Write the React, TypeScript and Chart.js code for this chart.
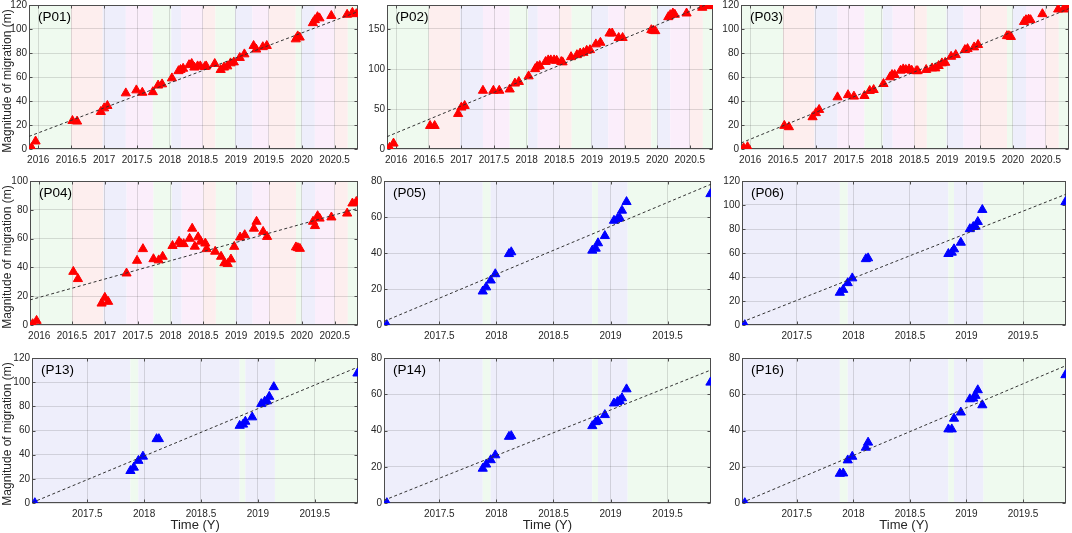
import React, { useEffect, useRef } from 'react';
import { Chart, registerables } from 'chart.js';
Chart.register(...registerables);

// ---------- data ----------
const datesTop = [
  2015.9, 2015.96, 2016.52, 2016.59, 2016.95, 2017.0, 2017.05, 2017.33, 2017.49, 2017.58,
  2017.74, 2017.82, 2017.88, 2018.03, 2018.13, 2018.16, 2018.2, 2018.29, 2018.33, 2018.37,
  2018.42, 2018.46, 2018.53, 2018.55, 2018.68, 2018.77, 2018.82, 2018.87, 2018.92, 2018.97,
  2019.06, 2019.13, 2019.27, 2019.31, 2019.41, 2019.47, 2019.91, 2019.94, 2019.97, 2020.17,
  2020.2, 2020.24, 2020.27, 2020.45, 2020.69, 2020.77, 2020.83,
];
const datesBottom = [
  2017.04, 2017.88, 2017.91, 2017.95, 2017.99, 2018.11, 2018.13, 2018.84, 2018.87, 2018.89,
  2018.95, 2019.03, 2019.06, 2019.08, 2019.1, 2019.14, 2019.875,
];

const p01 = [1, 6.4, 23.5, 23, 31, 34, 36, 46.5, 49, 47, 47.5, 53, 54, 59, 65, 66, 67, 70, 71, 68, 69, 69, 68.5, 69, 71, 66, 68, 69, 71.5, 72.3, 76, 79, 86, 83, 85, 86, 91.5, 94, 93, 105, 107.5, 110, 109, 111, 112, 113.6, 112.5];
const p02 = [1.7, 7, 29, 29, 44, 52, 54, 73, 73, 73, 74.6, 82, 84, 91, 100, 103, 104, 109, 111, 111, 111, 110.5, 109, 108.5, 115, 117.5, 119.6, 120.4, 123, 123.75, 131, 133, 144.6, 144.6, 139, 139, 148.75, 148, 147.5, 165, 167.5, 169.6, 168, 169.6, 176.7, 178.75, 179];
const p03 = [0.8, 1.7, 19.4, 18.3, 26.6, 30, 32.7, 43.2, 45, 43.8, 44.3, 48.5, 49.3, 54.3, 59.9, 61.8, 61.8, 65.4, 66.5, 66, 66.5, 65.4, 65, 65, 66, 67.3, 67.3, 69.3, 71.5, 72, 77, 78.4, 82.6, 83.4, 84.8, 86.8, 94.2, 94.2, 93.5, 106, 107.5, 108, 107.5, 112.5, 116.4, 116.4, 118];
const p04 = [0.7, 3, 37, 32, 15, 19, 16.2, 35.9, 44.7, 52.8, 45.8, 45, 47.5, 55, 57.9, 56.3, 56.3, 60, 67, 54.5, 61, 58, 56.7, 52.8, 51, 47.5, 43, 42.5, 45.6, 54.4, 60.9, 62.5, 67, 71.8, 64.8, 61.3, 54, 53.5, 53, 71.8, 68.8, 75.7, 74, 74.8, 77.5, 84.5, 85.6];
const p05 = [0, 18.7, 21, 24.8, 28.3, 39.5, 40.5, 41.4, 42.5, 45.5, 49.5, 58, 59, 59.5, 63.6, 68.4, 72.8];
const p06 = [0, 27, 29.4, 35, 39, 55, 55.7, 59.3, 60.4, 63.2, 68.7, 80, 81.8, 82, 86, 96, 102.5];
const p13 = [0, 26.6, 29.4, 35, 38.5, 53, 53, 64, 65, 67.4, 71, 82, 84, 84.3, 88, 96, 107.3];
const p14 = [0, 19, 21.3, 23.7, 26.4, 36.6, 37, 42.5, 44.7, 45.3, 48.6, 55, 55.8, 56.4, 57.9, 62.8, 66.5];
const p16 = [0, 16.2, 16.4, 23.6, 25.6, 30.6, 33.4, 40.7, 40.7, 46.6, 50, 57.3, 57.7, 59.2, 62.3, 54, 70.6];

// linear-trend end values (at axis start / axis end)
const trendP01 = [10.5, 114.5];
const trendP02 = [15.4, 184];
const trendP03 = [5, 117];
const trendP04 = [17.4, 81];
const trendP05 = [2, 78.2];
const trendP06 = [2.5, 109];
const trendP13 = [0.3, 112.5];
const trendP14 = [1.5, 73.4];
const trendP16 = [0.2, 75.8];

const xRangeTop = [2015.86, 2020.855];
const xRangeBottom = [2017.015, 2019.88];
const xTicksTop = [2016, 2016.5, 2017, 2017.5, 2018, 2018.5, 2019, 2019.5, 2020, 2020.5];
const xTicksBottom = [2017.5, 2018, 2018.5, 2019, 2019.5];
const yTicks120 = [0, 20, 40, 60, 80, 100, 120];
const yTicks100 = [0, 20, 40, 60, 80, 100];
const yTicks80 = [0, 20, 40, 60, 80];
const yTicks180 = [0, 50, 100, 150];

// background period bands (edges in years, and period kind)
const bandEdgesTop = [2015.84, 2016.5, 2016.98, 2017.33, 2017.74, 2018.02, 2018.17, 2018.5, 2018.69, 2018.99, 2019.25, 2019.5, 2019.91, 2020.0, 2020.2, 2020.5, 2020.7, 2020.9];
const bandKindsTop = ['G', 'R', 'B', 'M', 'G', 'B', 'M', 'R', 'G', 'B', 'M', 'R', 'G', 'B', 'M', 'R', 'G'];
const bandEdgesBottom = [2017.0, 2017.88, 2017.95, 2018.84, 2018.89, 2019.15, 2019.9];
const bandKindsBottom = ['B', 'G', 'B', 'G', 'B', 'G'];

const panelLabels = ['(P01)', '(P02)', '(P03)', '(P04)', '(P05)', '(P06)', '(P13)', '(P14)', '(P16)'];
const yTitle = 'Magnitude of migration (m)';
const xTitle = 'Time (Y)';

// ---------- styles / layout ----------
const BAND_COLORS: Record<string, string> = {
  G: '#effaef',
  R: '#fdeeee',
  B: '#eeeefb',
  M: '#fbeefb',
};
const FONT = "'Liberation Sans', Arial, Helvetica, sans-serif";
const TXT = '#262626';
const GRID = 'rgba(38,38,38,0.15)';

// plot-area rectangles [left, top, right, bottom]
const RECTS = [
  [29, 5, 358, 149.3], [386.5, 5, 712.7, 149.3], [741, 5, 1069, 149.3],
  [30, 181, 357.5, 325], [384, 181, 710.7, 325], [742, 181, 1066, 325],
  [32, 357.7, 358.3, 502.7], [384, 357.7, 710.7, 502.7], [742, 357.7, 1066, 502.7],
];

type PanelCfg = {
  label: string;
  dates: number[];
  values: number[];
  trend: number[];
  xRange: number[];
  xTicks: number[];
  yTicks: number[];
  yMax: number;
  color: string;
  bandEdges: number[];
  bandKinds: string[];
  rect: number[];
};

const PANELS: PanelCfg[] = [
  { values: p01, trend: trendP01, yTicks: yTicks120, yMax: 120 },
  { values: p02, trend: trendP02, yTicks: yTicks180, yMax: 180 },
  { values: p03, trend: trendP03, yTicks: yTicks120, yMax: 120 },
  { values: p04, trend: trendP04, yTicks: yTicks100, yMax: 100 },
  { values: p05, trend: trendP05, yTicks: yTicks80, yMax: 80 },
  { values: p06, trend: trendP06, yTicks: yTicks120, yMax: 120 },
  { values: p13, trend: trendP13, yTicks: yTicks120, yMax: 120 },
  { values: p14, trend: trendP14, yTicks: yTicks80, yMax: 80 },
  { values: p16, trend: trendP16, yTicks: yTicks80, yMax: 80 },
].map((p, i) => {
  const top = i < 4;
  return {
    ...p,
    label: panelLabels[i],
    dates: top ? datesTop : datesBottom,
    xRange: top ? xRangeTop : xRangeBottom,
    xTicks: top ? xTicksTop : xTicksBottom,
    color: top ? '#ff0000' : '#0000ff',
    bandEdges: top ? bandEdgesTop : bandEdgesBottom,
    bandKinds: top ? bandKindsTop : bandKindsBottom,
    rect: RECTS[i],
  };
});

const Y_AXIS_W = 28;
const X_AXIS_H = 22;
const PAD_TOP = 8;
const PAD_RIGHT = 8;

const framePlugin = {
  id: 'frame',
  beforeDraw(chart: any, _args: any, opts: any) {
    const { ctx, chartArea: a, scales } = chart;
    const x = scales.x;
    ctx.save();
    ctx.beginPath();
    ctx.rect(a.left, a.top, a.right - a.left, a.bottom - a.top);
    ctx.clip();
    ctx.fillStyle = '#ffffff';
    ctx.fillRect(a.left, a.top, a.right - a.left, a.bottom - a.top);
    const edges: number[] = opts.edges;
    const kinds: string[] = opts.kinds;
    for (let i = 0; i < kinds.length; i++) {
      const x0 = x.getPixelForValue(edges[i]);
      const x1 = x.getPixelForValue(edges[i + 1]);
      ctx.fillStyle = BAND_COLORS[kinds[i]];
      ctx.fillRect(x0, a.top, x1 - x0, a.bottom - a.top);
    }
    ctx.restore();
  },
  beforeDatasetsDraw(chart: any) {
    const { ctx, chartArea: a, scales } = chart;
    ctx.save();
    ctx.strokeStyle = '#4d4d4d';
    ctx.lineWidth = 1;
    const L = Math.round(a.left) + 0.5;
    const R = Math.round(a.right) - 0.5;
    const T = Math.round(a.top) + 0.5;
    const B = Math.round(a.bottom) - 0.5;
    ctx.strokeRect(L, T, R - L, B - T);
    const tl = 3;
    ctx.beginPath();
    scales.x.ticks.forEach((t: any) => {
      const px = Math.round(scales.x.getPixelForValue(t.value)) + 0.5;
      ctx.moveTo(px, B); ctx.lineTo(px, B - tl);
      ctx.moveTo(px, T); ctx.lineTo(px, T + tl);
    });
    scales.y.ticks.forEach((t: any) => {
      const py = Math.round(scales.y.getPixelForValue(t.value)) + 0.5;
      ctx.moveTo(L, py); ctx.lineTo(L + tl, py);
      ctx.moveTo(R, py); ctx.lineTo(R - tl, py);
    });
    ctx.stroke();
    ctx.restore();
  },
};

function Panel({ cfg }: { cfg: PanelCfg }) {
  const ref = useRef<HTMLCanvasElement>(null);
  const [l, t, r, b] = cfg.rect;
  const left = l - Y_AXIS_W;
  const top = t - PAD_TOP;
  const W = Math.round(r - l + Y_AXIS_W + PAD_RIGHT);
  const H = Math.round(b - t + PAD_TOP + X_AXIS_H);

  useEffect(() => {
    const points = cfg.dates.map((d, i) => ({ x: d, y: cfg.values[i] }));
    const trend = [
      { x: cfg.xRange[0], y: cfg.trend[0] },
      { x: cfg.xRange[1], y: cfg.trend[1] },
    ];
    const chart = new Chart(ref.current!, {
      type: 'scatter',
      data: {
        datasets: [
          {
            type: 'line',
            data: trend,
            borderColor: '#333333',
            borderWidth: 1,
            borderDash: [3, 2.5],
            pointRadius: 0,
            fill: false,
          } as any,
          {
            data: points,
            pointStyle: 'triangle',
            pointRadius: 5.3,
            borderWidth: 1,
            backgroundColor: cfg.color,
            borderColor: cfg.color,
          },
        ],
      },
      options: {
        responsive: false,
        animation: false,
        events: [],
        layout: { padding: { top: PAD_TOP, right: PAD_RIGHT, left: 0, bottom: 0 } },
        plugins: {
          legend: { display: false },
          tooltip: { enabled: false },
          frame: { edges: cfg.bandEdges, kinds: cfg.bandKinds },
        } as any,
        scales: {
          x: {
            type: 'linear',
            min: cfg.xRange[0],
            max: cfg.xRange[1],
            afterBuildTicks: (s: any) => {
              s.ticks = cfg.xTicks.map((v) => ({ value: v }));
            },
            afterFit: (s: any) => {
              s.height = X_AXIS_H;
            },
            ticks: {
              callback: (v: any) => String(v),
              font: { family: FONT, size: 10 },
              color: TXT,
              padding: 5,
              maxRotation: 0,
              autoSkip: false,
            },
            grid: { color: GRID, drawTicks: false, lineWidth: 1 },
            border: { display: false },
          },
          y: {
            type: 'linear',
            min: 0,
            max: cfg.yMax,
            afterBuildTicks: (s: any) => {
              s.ticks = cfg.yTicks.map((v) => ({ value: v }));
            },
            afterFit: (s: any) => {
              s.width = Y_AXIS_W;
            },
            ticks: {
              callback: (v: any) => String(v),
              font: { family: FONT, size: 10 },
              color: TXT,
              padding: 2,
            },
            grid: { color: GRID, drawTicks: false, lineWidth: 1 },
            border: { display: false },
          },
        },
      },
      plugins: [framePlugin],
    });
    return () => chart.destroy();
  }, []);

  return (
    <canvas
      ref={ref}
      width={W}
      height={H}
      style={{ position: 'absolute', left, top, width: W, height: H }}
    />
  );
}

export default function App() {
  return (
    <div
      style={{
        position: 'fixed',
        left: 0,
        top: 0,
        width: 1072,
        height: 533,
        background: '#ffffff',
        overflow: 'hidden',
        fontFamily: FONT,
      }}
    >
      {PANELS.map((p, i) => (
        <Panel key={i} cfg={p} />
      ))}
      {PANELS.map((p, i) => (
        <div
          key={'l' + i}
          style={{
            position: 'absolute',
            left: p.rect[0] + 9,
            top: p.rect[1] + 12 - 9,
            fontSize: 13.5,
            lineHeight: '18px',
            color: '#000',
            whiteSpace: 'nowrap',
          }}
        >
          {p.label}
        </div>
      ))}
      {[0, 3, 6].map((i) => {
        const cy = (PANELS[i].rect[1] + PANELS[i].rect[3]) / 2 + 4;
        return (
          <div
            key={'y' + i}
            style={{
              position: 'absolute',
              left: 7 - 100,
              top: cy - 8,
              width: 200,
              height: 16,
              lineHeight: '16px',
              textAlign: 'center',
              fontSize: 12,
              color: TXT,
              transform: 'rotate(-90deg)',
              transformOrigin: '100px 8px',
              whiteSpace: 'nowrap',
            }}
          >
            {yTitle}
          </div>
        );
      })}
      {[6, 7, 8].map((i) => {
        const cx = (PANELS[i].rect[0] + PANELS[i].rect[2]) / 2;
        return (
          <div
            key={'x' + i}
            style={{
              position: 'absolute',
              left: cx - 60,
              top: 525 - 8,
              width: 120,
              height: 16,
              lineHeight: '16px',
              textAlign: 'center',
              fontSize: 13,
              color: TXT,
              whiteSpace: 'nowrap',
            }}
          >
            {xTitle}
          </div>
        );
      })}
    </div>
  );
}
